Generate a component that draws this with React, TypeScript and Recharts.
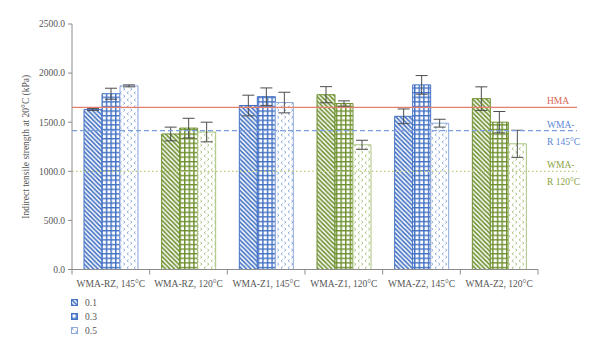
import React from 'react';
import { ComposedChart, Bar, XAxis, YAxis, ErrorBar, Cell, ReferenceLine, Legend } from 'recharts';

const categories = ['WMA-RZ, 145°C', 'WMA-RZ, 120°C', 'WMA-Z1, 145°C', 'WMA-Z1, 120°C', 'WMA-Z2, 145°C', 'WMA-Z2, 120°C'];
const temps = [145, 120, 145, 120, 145, 120];

// indirect tensile strength (kPa) per level, with +/- error
const v01 = [1630, 1380, 1670, 1780, 1560, 1740];
const err01 = [10, 70, 105, 82, 75, 120];
const v03 = [1790, 1440, 1760, 1690, 1880, 1500];
const err03 = [56, 100, 89, 27, 95, 109];
const v05 = [1870, 1400, 1700, 1270, 1490, 1280];
const err05 = [10, 100, 105, 46, 40, 138];

const yTicks = [0, 500, 1000, 1500, 2000, 2500];
const levels = ['0.1', '0.3', '0.5'];

const hmaLevel = 1650;
const wmaR145Level = 1415;
const wmaR120Level = 1000;

const data = categories.map((name, i) => ({
  name,
  temp: temps[i],
  v01: v01[i], e01: err01[i],
  v03: v03[i], e03: err03[i],
  v05: v05[i], e05: err05[i],
}));

const FONT = '"Liberation Serif", "Times New Roman", serif';
const TEXT = '#555555';
const AXIS = '#8c8c8c';
const BLUE = '#4472c4';
const BLUE_LIGHT = '#8faadc';
const GREEN = '#6f9130';
const GREEN_LIGHT = '#a9c47f';

const colorFor = (temp: number, light = false) =>
  temp === 145 ? (light ? BLUE_LIGHT : BLUE) : (light ? GREEN_LIGHT : GREEN);
const tone = (temp: number) => (temp === 145 ? 'blue' : 'green');

function Patterns() {
  const defs = [
    { key: 'blue', c: BLUE, l: BLUE_LIGHT },
    { key: 'green', c: GREEN, l: GREEN_LIGHT },
  ];
  return (
    <defs>
      {defs.map(d => (
        <React.Fragment key={d.key}>
          <pattern id={`stripe-${d.key}`} patternUnits="userSpaceOnUse" width={4.5} height={4.5}>
            <rect width={4.5} height={4.5} fill="#fff" />
            <path d="M-1,-1 L5.5,5.5 M-1,3.5 L1,5.5 M3.5,-1 L5.5,1" stroke={d.c} strokeWidth={1.7} />
          </pattern>
          <pattern id={`grid-${d.key}`} patternUnits="userSpaceOnUse" width={4.6} height={4.6}>
            <rect width={4.6} height={4.6} fill="#fff" />
            <path d="M0.7,0 L0.7,4.6 M0,0.7 L4.6,0.7" stroke={d.c} strokeWidth={1.5} />
          </pattern>
          <pattern id={`chev-${d.key}`} patternUnits="userSpaceOnUse" width={7} height={7}>
            <rect width={7} height={7} fill="#fff" />
            <path d="M2.6,0.6 L1,1.8 L2.6,3 M4.4,4 L6,5.2 L4.4,6.4" stroke={d.l} strokeWidth={1} fill="none" />
          </pattern>
        </React.Fragment>
      ))}
    </defs>
  );
}

const CategoryTick = (props: any) => {
  const { x, y, payload, index, visibleTicksCount, width } = props;
  const half = payload && payload.offset ? payload.offset : width / visibleTicksCount / 2;
  return (
    <g>
      <line x1={x - half} y1={y} x2={x - half} y2={y + 5} stroke={AXIS} />
      {index === visibleTicksCount - 1 && <line x1={x + half} y1={y} x2={x + half} y2={y + 5} stroke={AXIS} />}
      <text x={x} y={y + 17} textAnchor="middle" fill={TEXT} fontSize={9.5} fontFamily={FONT}>
        {payload.value}
      </text>
    </g>
  );
};

const extendedLine = (props: any) => <line {...props} x2={props.x2 + 39} />;

const RefLabel = ({ viewBox, lines, color }: any) => {
  const x = viewBox.x + viewBox.width + 9;
  const y = viewBox.y;
  return (
    <g>
      {lines.map((t: string, i: number) => (
        <text key={t} x={x} y={i === 0 ? y - 3 : y + 14} fill={color} fontSize={9.5} fontFamily={FONT}>
          {t}
        </text>
      ))}
    </g>
  );
};

const LegendContent = () => {
  const fills = ['url(#stripe-blue)', 'url(#grid-blue)', 'url(#chev-blue)'];
  return (
    <div style={{ height: 42, paddingLeft: 71, fontFamily: FONT, fontSize: 9.5, color: TEXT }}>
      {levels.map((lv, i) => (
        <div key={lv} style={{ height: 14, display: 'flex', alignItems: 'center' }}>
          <svg width={7} height={7} style={{ marginRight: 7 }}>
            <rect x={0.5} y={0.5} width={6} height={6} fill={fills[i]} stroke={i === 2 ? BLUE_LIGHT : BLUE} />
          </svg>
          <span>{lv}</span>
        </div>
      ))}
    </div>
  );
};

export default function App() {
  return (
    <div style={{ position: 'absolute', left: 0, top: 0, width: 600, height: 355, background: '#fff' }}>
      <ComposedChart
        width={600}
        height={355}
        data={data}
        margin={{ top: 24, right: 62, left: 10, bottom: 17.5 }}
        barGap={0}
        barSize={18}
      >
        <Patterns />
        <XAxis
          dataKey="name"
          height={26}
          stroke={AXIS}
          tickLine={false}
          tickSize={0}
          tickMargin={0}
          interval={0}
          tick={<CategoryTick />}
        />
        <YAxis
          width={62}
          domain={[0, 2500]}
          ticks={yTicks}
          stroke={AXIS}
          tickSize={4}
          tickMargin={3}
          tick={{ fill: TEXT, fontSize: 9.5, fontFamily: FONT }}
          tickFormatter={(v: number) => v.toFixed(1)}
          label={{
            value: 'Indirect tensile strength at 20°C (kPa)',
            angle: -90,
            position: 'insideLeft',
            offset: 0,
            dx: 16,
            style: { textAnchor: 'middle', fill: TEXT, fontSize: 9.5, fontFamily: FONT },
          }}
        />
        <Legend verticalAlign="bottom" align="left" wrapperStyle={{ left: 0 }} content={<LegendContent />} />
        <Bar dataKey="v01" isAnimationActive={false} strokeWidth={1}>
          {data.map(d => (
            <Cell key={d.name} fill={`url(#stripe-${tone(d.temp)})`} stroke={colorFor(d.temp)} />
          ))}
          <ErrorBar dataKey="e01" width={6} stroke="#4d4d4d" strokeWidth={1} />
        </Bar>
        <Bar dataKey="v03" isAnimationActive={false} strokeWidth={1}>
          {data.map(d => (
            <Cell key={d.name} fill={`url(#grid-${tone(d.temp)})`} stroke={colorFor(d.temp)} />
          ))}
          <ErrorBar dataKey="e03" width={6} stroke="#4d4d4d" strokeWidth={1} />
        </Bar>
        <Bar dataKey="v05" isAnimationActive={false} strokeWidth={1}>
          {data.map(d => (
            <Cell key={d.name} fill={`url(#chev-${tone(d.temp)})`} stroke={colorFor(d.temp, true)} />
          ))}
          <ErrorBar dataKey="e05" width={6} stroke="#4d4d4d" strokeWidth={1} />
        </Bar>
        <ReferenceLine
          y={hmaLevel}
          stroke="#e5806f"
          strokeWidth={1.2}
          shape={extendedLine}
          label={<RefLabel lines={['HMA']} color="#d9655a" />}
        />
        <ReferenceLine
          y={wmaR145Level}
          stroke="#7b9ede"
          strokeWidth={1.2}
          strokeDasharray="5 3"
          shape={extendedLine}
          label={<RefLabel lines={['WMA-', 'R 145°C']} color="#5b86d6" />}
        />
        <ReferenceLine
          y={wmaR120Level}
          stroke="#bccb7c"
          strokeWidth={1.2}
          strokeDasharray="1.5 2.5"
          shape={extendedLine}
          label={<RefLabel lines={['WMA-', 'R 120°C']} color="#8ba33f" />}
        />
      </ComposedChart>
    </div>
  );
}
